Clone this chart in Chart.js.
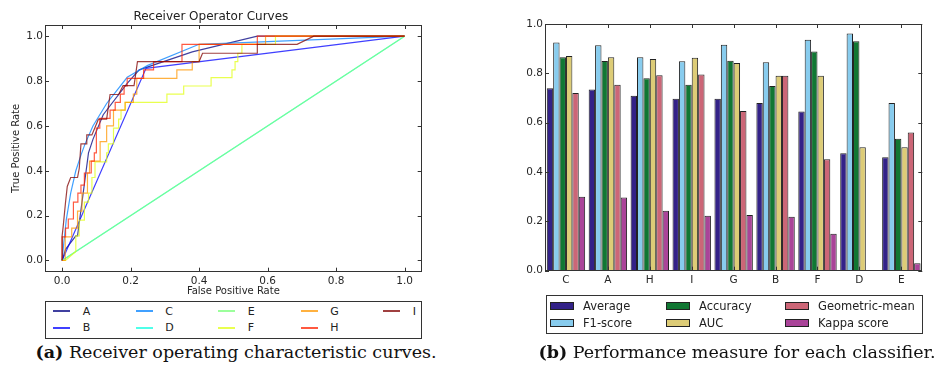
<!DOCTYPE html>
<html>
<head>
<meta charset="utf-8">
<script src="https://cdn.jsdelivr.net/npm/chart.js@4.4.0/dist/chart.umd.min.js"></script>
<style>
body { margin:0; width:943px; height:376px; background:#fff; position:relative; overflow:hidden; font-family:"DejaVu Sans", sans-serif; }
#roc { position:absolute; left:0; top:0; }
#bars { position:absolute; left:500px; top:0; }
.legend { position:absolute; border:1px solid #333; box-sizing:border-box; font-size:11px; color:#222; }
.item { position:absolute; white-space:nowrap; line-height:12px; }
.cap { position:absolute; font-family:"DejaVu Serif", serif; font-size:17.5px; white-space:nowrap; transform:translateX(-50%); color:#111; }
</style>
</head>
<body>
<canvas id="roc" width="440" height="300"></canvas>
<canvas id="bars" width="443" height="300"></canvas>
<div class="legend" id="rocLegend" style="left:45px;top:301px;width:377px;height:38px"></div>
<div class="legend" id="barLegend" style="left:546px;top:295px;width:377px;height:39px"></div>
<div class="cap" style="left:236px;top:342px"><b>(a)</b> Receiver operating characteristic curves.</div>
<div class="cap" style="left:737px;top:342px"><b>(b)</b> Performance measure for each classifier.</div>
<script>
// ROC curves
var classifiers = ['A', 'B', 'C', 'D', 'E', 'F', 'G', 'H', 'I'];
var rocColors = ['rgba(0,0,128,0.75)', 'rgba(0,0,255,0.75)', 'rgba(0,128,255,0.75)', 'rgba(20,255,226,0.75)',
                 'rgba(123,255,123,0.75)', 'rgba(226,255,20,0.75)', 'rgba(255,151,0,0.75)', 'rgba(255,33,0,0.75)', 'rgba(128,0,0,0.75)'];
var rocTicks = [0.0, 0.2, 0.4, 0.6, 0.8, 1.0];

var fprA = [0, 0.01, 0.04, 0.045, 0.077, 0.09, 0.12, 0.19, 0.225, 0.38, 0.57, 1];
var tprA = [0, 0.05, 0.11, 0.11, 0.48, 0.54, 0.65, 0.79, 0.85, 0.93, 1, 1];
var fprB = [0, 0.245, 1];
var tprB = [0, 0.857, 1];
var fprC = [0, 0.005, 0.012, 0.025, 0.04, 0.055, 0.067, 0.09, 0.13, 0.19, 0.25, 0.4, 0.6, 1];
var tprC = [0, 0.08, 0.18, 0.3, 0.4, 0.47, 0.52, 0.6, 0.7, 0.817, 0.87, 0.964, 0.976, 1];
var fprD = [0, 1];
var tprD = [0, 1];
var fprE = [0, 1];
var tprE = [0, 1];
var fprF = [0, 0.01, 0.04, 0.04, 0.05, 0.05, 0.065, 0.065, 0.077, 0.077, 0.087, 0.087, 0.096, 0.096, 0.13, 0.13, 0.135, 0.135,
            0.15, 0.15, 0.165, 0.165, 0.172, 0.172, 0.184, 0.184, 0.306, 0.306, 0.355, 0.355, 0.435, 0.435, 0.496, 0.496,
            0.505, 0.505, 0.513, 0.513, 0.525, 0.525, 0.623, 0.623, 1];
var tprF = [0, 0, 0.04, 0.11, 0.11, 0.18, 0.18, 0.26, 0.26, 0.3, 0.3, 0.37, 0.37, 0.44, 0.44, 0.48, 0.48, 0.52,
            0.52, 0.59, 0.59, 0.63, 0.63, 0.67, 0.67, 0.705, 0.705, 0.742, 0.742, 0.778, 0.778, 0.815, 0.815, 0.85,
            0.85, 0.887, 0.887, 0.924, 0.924, 0.964, 0.964, 1, 1];
var fprG = [0, 0.009, 0.009, 0.028, 0.028, 0.045, 0.045, 0.058, 0.058, 0.074, 0.074, 0.08, 0.08, 0.111, 0.111, 0.13, 0.13,
            0.15, 0.15, 0.184, 0.184, 0.208, 0.208, 0.218, 0.218, 0.335, 0.335, 0.38, 0.38, 0.40, 0.40, 0.594, 0.594, 1];
var tprG = [0, 0, 0.105, 0.105, 0.144, 0.144, 0.22, 0.22, 0.3, 0.3, 0.39, 0.39, 0.443, 0.443, 0.53, 0.53, 0.6,
            0.6, 0.67, 0.67, 0.705, 0.705, 0.742, 0.742, 0.812, 0.812, 0.85, 0.85, 0.887, 0.887, 0.964, 0.964, 1, 1];
var fprH = [0, 0, 0.01, 0.01, 0.018, 0.018, 0.033, 0.033, 0.046, 0.046, 0.055, 0.055, 0.065, 0.065, 0.085, 0.085, 0.094, 0.094,
            0.1, 0.1, 0.11, 0.11, 0.14, 0.14, 0.155, 0.155, 0.17, 0.17, 0.181, 0.181, 0.19, 0.19, 0.238, 0.238, 0.267, 0.267,
            0.35, 0.35, 0.57, 0.57, 1];
var tprH = [0, 0.105, 0.105, 0.144, 0.144, 0.185, 0.185, 0.26, 0.26, 0.3, 0.3, 0.336, 0.336, 0.39, 0.39, 0.443, 0.443, 0.48,
            0.48, 0.59, 0.59, 0.634, 0.634, 0.67, 0.67, 0.705, 0.705, 0.742, 0.742, 0.778, 0.778, 0.812, 0.812, 0.85, 0.85, 0.887,
            0.887, 0.964, 0.964, 1, 1];
var fprI = [0, 0, 0.003, 0.01, 0.015, 0.025, 0.045, 0.05, 0.055, 0.072, 0.072, 0.087, 0.106, 0.13, 0.14, 0.165, 0.178, 0.21,
            0.22, 0.40, 0.41, 0.57, 0.57, 0.686, 0.735, 1];
var tprI = [0, 0.11, 0.15, 0.26, 0.33, 0.37, 0.37, 0.41, 0.52, 0.52, 0.56, 0.56, 0.63, 0.63, 0.74, 0.74, 0.78, 0.78,
            0.887, 0.887, 0.924, 0.924, 0.964, 0.964, 1, 1];

// performance measures
var barCats = ['C', 'A', 'H', 'I', 'G', 'B', 'F', 'D', 'E'];
var measures = ['Average', 'F1-score', 'Accuracy', 'AUC', 'Geometric-mean', 'Kappa score'];
var barColors = ['#332288', '#88CCEE', '#117733', '#DDCC77', '#CC6677', '#AA4499'];
var average  = [0.74, 0.735, 0.709, 0.697, 0.697, 0.68, 0.645, 0.476, 0.46];
var f1score  = [0.925, 0.914, 0.865, 0.849, 0.916, 0.845, 0.936, 0.961, 0.68];
var accuracy = [0.865, 0.85, 0.78, 0.754, 0.851, 0.749, 0.889, 0.93, 0.535];
var auc      = [0.87, 0.865, 0.858, 0.863, 0.842, 0.79, 0.79, 0.5, 0.5];
var gmean    = [0.72, 0.754, 0.792, 0.795, 0.647, 0.79, 0.452, 0, 0.56];
var kappa    = [0.30, 0.297, 0.243, 0.223, 0.226, 0.219, 0.15, 0, 0.03];
var barTicks = [0.0, 0.2, 0.4, 0.6, 0.8, 1.0];

var fprs = [fprA, fprB, fprC, fprD, fprE, fprF, fprG, fprH, fprI];
var tprs = [tprA, tprB, tprC, tprD, tprE, tprF, tprG, tprH, tprI];

Chart.defaults.font.family = '"DejaVu Sans", sans-serif';
Chart.defaults.color = '#262626';

// box round the plot plus inward ticks on all four sides
var frame = {
    id: 'frame',
    afterDatasetsDraw: function(chart) {
        var ctx = chart.ctx, a = chart.chartArea, x = chart.scales.x, y = chart.scales.y;
        var L = 4;
        ctx.save();
        ctx.strokeStyle = '#333';
        ctx.lineWidth = 1;
        ctx.beginPath();
        x.ticks.forEach(function(t, i) {
            var p = Math.round(x.getPixelForTick(i)) + 0.5;
            ctx.moveTo(p, a.bottom); ctx.lineTo(p, a.bottom - L);
            ctx.moveTo(p, a.top); ctx.lineTo(p, a.top + L);
        });
        y.ticks.forEach(function(t, i) {
            var p = Math.round(y.getPixelForTick(i)) + 0.5;
            ctx.moveTo(a.left, p); ctx.lineTo(a.left + L, p);
            ctx.moveTo(a.right, p); ctx.lineTo(a.right - L, p);
        });
        ctx.stroke();
        ctx.strokeRect(Math.round(a.left) + 0.5, Math.round(a.top) + 0.5, Math.round(a.width) - 1, Math.round(a.height) - 1);
        ctx.restore();
    }
};

var rocSets = classifiers.map(function(c, i) {
    return {
        label: c,
        data: fprs[i].map(function(v, j) { return {x: v, y: tprs[i][j]}; }),
        showLine: true,
        borderColor: rocColors[i],
        backgroundColor: rocColors[i],
        borderWidth: 1.2,
        pointRadius: 0,
        fill: false,
        order: classifiers.length - i
    };
});

new Chart(document.getElementById('roc'), {
    type: 'scatter',
    data: { datasets: rocSets },
    plugins: [frame],
    options: {
        responsive: false,
        animation: false,
        layout: { padding: { left: 0, right: 18.3, top: 0, bottom: 0 } },
        plugins: {
            legend: { display: false },
            tooltip: { enabled: false },
            title: { display: true, text: 'Receiver Operator Curves', color: '#222',
                     font: { size: 12, weight: 'normal' }, padding: { top: 10, bottom: 0.6 } }
        },
        scales: {
            x: {
                type: 'linear', min: -0.05, max: 1.05,
                afterBuildTicks: function(s) { s.ticks = rocTicks.map(function(v) { return {value: v}; }); },
                afterFit: function(s) { s.height = 28.3; },
                grid: { display: false, drawTicks: false },
                border: { display: false },
                ticks: { padding: 3, font: { size: 10.5 }, maxRotation: 0, callback: function(v) { return v.toFixed(1); } },
                title: { display: true, text: 'False Positive Rate', font: { size: 10 }, padding: { top: 0, bottom: 2.3 } }
            },
            y: {
                type: 'linear', min: -0.05, max: 1.05,
                afterBuildTicks: function(s) { s.ticks = rocTicks.map(function(v) { return {value: v}; }); },
                afterFit: function(s) { s.width = 45; },
                grid: { display: false, drawTicks: false },
                border: { display: false },
                ticks: { padding: 2, font: { size: 10.5 }, callback: function(v) { return v.toFixed(1); } },
                title: { display: true, text: 'True Positive Rate', font: { size: 10 }, padding: { top: 10.7, bottom: 0 } }
            }
        }
    }
});

var barData = [average, f1score, accuracy, auc, gmean, kappa];
new Chart(document.getElementById('bars'), {
    type: 'bar',
    data: {
        labels: barCats,
        datasets: measures.map(function(m, i) {
            return { label: m, data: barData[i], backgroundColor: barColors[i], borderColor: '#222', borderWidth: 1,
                     categoryPercentage: 0.916, barPercentage: 1.0 };
        })
    },
    plugins: [frame],
    options: {
        responsive: false,
        animation: false,
        layout: { padding: { left: 0, right: 20.7, top: 24, bottom: 0 } },
        plugins: { legend: { display: false }, tooltip: { enabled: false } },
        scales: {
            x: {
                afterFit: function(s) { s.height = 29.3; },
                grid: { display: false, drawTicks: false },
                border: { display: false },
                ticks: { padding: 3, font: { size: 10.5 }, maxRotation: 0 }
            },
            y: {
                min: 0, max: 1,
                afterBuildTicks: function(s) { s.ticks = barTicks.map(function(v) { return {value: v}; }); },
                afterFit: function(s) { s.width = 45; },
                grid: { display: false, drawTicks: false },
                border: { display: false },
                ticks: { padding: 2, font: { size: 10.5 }, callback: function(v) { return v.toFixed(1); } }
            }
        }
    }
});

// legends, column by column as in the original
var rocLeg = document.getElementById('rocLegend');
classifiers.forEach(function(c, i) {
    var col = Math.floor(i / 2), row = i % 2;
    var ln = document.createElement('div');
    ln.style.cssText = 'position:absolute;height:2px;width:17px;background:' + rocColors[i] +
                       ';left:' + Math.round(7.3 + col * 82.5) + 'px;top:' + (8 + row * 17) + 'px';
    rocLeg.appendChild(ln);
    var tx = document.createElement('div');
    tx.className = 'item';
    tx.textContent = c;
    tx.style.left = (36.7 + col * 82.5) + 'px';
    tx.style.top = (3.7 + row * 16.6) + 'px';
    rocLeg.appendChild(tx);
});
var barLeg = document.getElementById('barLegend');
var barCols = [3, 119, 238];
measures.forEach(function(m, i) {
    var col = Math.floor(i / 2), row = i % 2;
    var it = document.createElement('div');
    it.className = 'item';
    it.style.left = barCols[col] + 'px';
    it.style.top = (3.5 + row * 17.3) + 'px';
    it.style.fontSize = '11.5px';
    it.innerHTML = '<span style="display:inline-block;box-sizing:border-box;width:24px;height:8px;border:1px solid #222;background:' +
                   barColors[i] + ';vertical-align:middle;margin-right:9px"></span>' + m;
    barLeg.appendChild(it);
});
</script>
</body>
</html>
